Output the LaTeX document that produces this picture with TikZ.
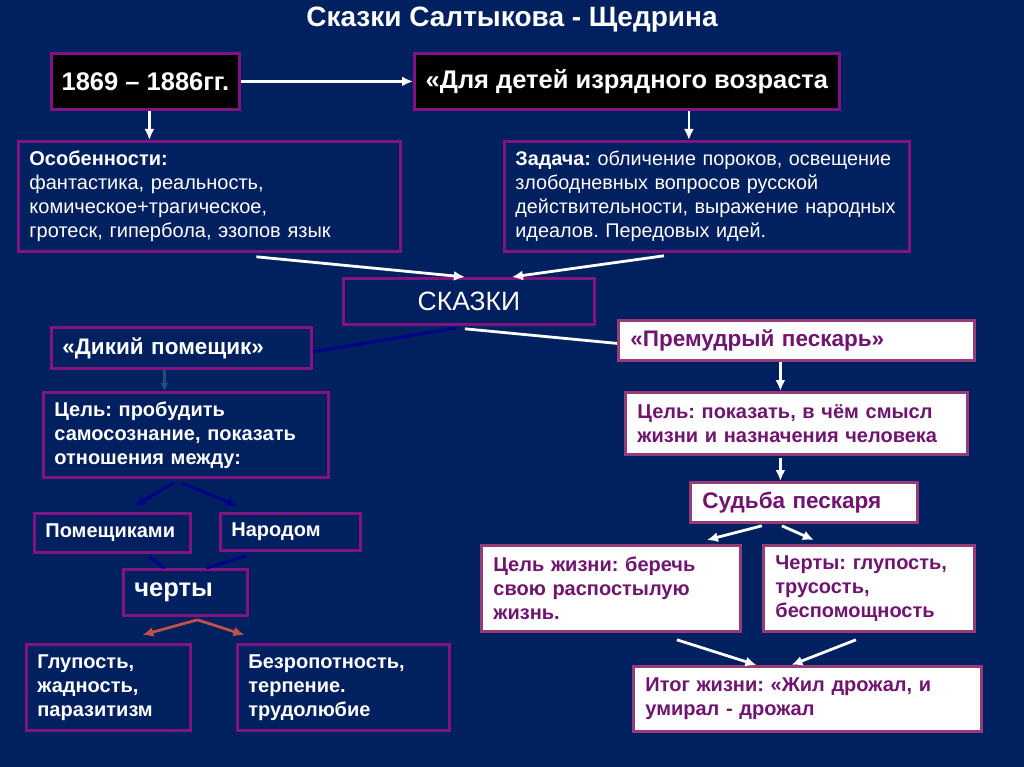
\documentclass[tikz,border=0pt]{standalone}
\usepackage{fontspec}
\setmainfont{Liberation Sans}
\usepackage{xcolor}
\usepackage{tikz}
\usetikzlibrary{arrows.meta,positioning,calc}
\frenchspacing
\hyphenpenalty=10000
\definecolor{slidebg}{RGB}{0,32,96}
\definecolor{boxpurple}{RGB}{130,20,130}
\definecolor{mauve}{RGB}{150,60,120}
\definecolor{inkpurple}{RGB}{112,20,112}
\definecolor{navyline}{RGB}{0,0,140}
\definecolor{tealline}{RGB}{30,80,120}
\definecolor{brick}{RGB}{192,80,77}
\tikzset{
  darkbox/.style={rectangle, draw=boxpurple, fill=black, line width=2.8pt, anchor=north west,
    text=white, font=\fontsize{25.5}{30}\selectfont\bfseries, inner sep=0pt},
  bluebox/.style={rectangle, draw=boxpurple, fill=slidebg, line width=2.8pt, anchor=north west,
    text=white, align=left, inner xsep=11pt, inner ysep=0pt,
    font=\fontsize{20}{24}\selectfont\bfseries},
  whitebox/.style={rectangle, draw=mauve, fill=white, line width=2.8pt, anchor=north west,
    text=inkpurple, align=left, inner xsep=12pt, inner ysep=0pt,
    font=\fontsize{20}{24}\selectfont\bfseries},
  whitearrow/.style={-{Latex[length=11pt,width=10pt]}, draw=white, line width=2.8pt},
  whiteline/.style={draw=white, line width=2.8pt},
  navyarrow/.style={-{Latex[length=11pt,width=10pt]}, draw=navyline, line width=2.8pt},
  navylink/.style={draw=navyline, line width=3pt},
  brickarrow/.style={-{Latex[length=11pt,width=10pt]}, draw=brick, line width=2.8pt},
}

\begin{document}
\begin{tikzpicture}[x=1pt, y=-1pt]
  \fill[slidebg] (0,0) rectangle (1024,767);
  \useasboundingbox (0,0) rectangle (1024,767);

  % Title
  \node[text=white, font=\fontsize{28}{32}\selectfont\bfseries] (title) at (512,20) {Сказки Салтыкова - Щедрина};

  % Top row
  \node[darkbox, minimum width=188pt, minimum height=56pt] (years) at (50,52) {1869 – 1886гг.};
  \node[darkbox, minimum width=425pt, minimum height=56pt] (kids) at (413,52) {«Для детей изрядного возраста};

  % Features and task
  \node[bluebox, text width=360pt, minimum height=110pt, font=\fontsize{20}{24}\selectfont] (feat) at (17,140)
    {\textbf{Особенности:}\\фантастика, реальность,\\комическое+трагическое,\\гротеск, гипербола, эзопов язык};
  \node[bluebox, text width=383pt, minimum height=110pt, font=\fontsize{19.8}{24}\selectfont] (task) at (503,140)
    {\textbf{Задача:} обличение пороков, освещение\\злободневных вопросов русской\\действительности, выражение народных\\идеалов. Передовых идей.};

  % Tales
  \node[bluebox, align=center, minimum width=251pt, minimum height=46pt, inner xsep=0pt,
    font=\fontsize{26.5}{30}\selectfont] (tales) at (342,277) {СКАЗКИ};

  % Left branch
  \node[bluebox, text width=238pt, minimum height=41pt, font=\fontsize{22.5}{26}\selectfont\bfseries] (wild) at (50,326) {«Дикий помещик»};
  \node[bluebox, text width=263pt, minimum height=85pt] (goalL) at (42,391)
    {Цель: пробудить\\самосознание, показать\\отношения между:};
  \node[bluebox, text width=134pt, minimum height=39pt] (lords) at (33,512) {Помещиками};
  \node[bluebox, text width=118pt, minimum height=37pt] (people) at (219,512) {Народом};
  \node[bluebox, text width=102pt, minimum height=46pt, font=\fontsize{25.5}{28}\selectfont\bfseries] (traits) at (122,568) {черты};
  \node[bluebox, text width=142pt, minimum height=86pt] (stupid) at (25,643)
    {Глупость,\\жадность,\\паразитизм};
  \node[bluebox, text width=190pt, minimum height=86pt] (meek) at (236,643)
    {Безропотность,\\терпение.\\трудолюбие};

  % Right branch
  \node[whitebox, text width=332pt, minimum height=40pt, font=\fontsize{22.5}{26}\selectfont\bfseries] (gudgeon) at (617,319) {«Премудрый пескарь»};
  \node[whitebox, text width=318pt, minimum height=62pt] (goalR) at (624,391)
    {Цель: показать, в чём смысл\\жизни и назначения человека};
  \node[whitebox, text width=203pt, minimum height=40pt, font=\fontsize{22.5}{26}\selectfont\bfseries] (fate) at (689,481) {Судьба пескаря};
  \node[whitebox, text width=235pt, minimum height=86pt] (aim) at (480,544)
    {Цель жизни: беречь\\свою распостылую\\жизнь.};
  \node[whitebox, text width=187pt, minimum height=86pt] (feats) at (762,544)
    {Черты: глупость,\\трусость,\\беспомощность};
  \node[whitebox, text width=324pt, minimum height=65pt] (result) at (632,665)
    {Итог жизни: «Жил дрожал, и\\умирал - дрожал};

  % Top connectors
  \draw[whitearrow] (years.east) -- (kids.west);
  \draw[whitearrow] ([xshift=4pt]years.south) -- ([xshift=4pt]years.south |- feat.north);
  \draw[whitearrow] ([xshift=62pt]kids.south) -- ([xshift=62pt]kids.south |- task.north);
  \draw[whitearrow] ([xshift=47pt,yshift=-4pt]feat.south) -- ([xshift=-4pt]tales.north);
  \draw[whitearrow] ([xshift=-43pt,yshift=-3pt]task.south) -- ([xshift=43pt]tales.north);

  % From tales to both branches
  \draw[whiteline] ([xshift=-4pt,yshift=-3pt]tales.south) -- ([yshift=-3pt]gudgeon.west);
  \draw[navylink] ([xshift=-12pt,yshift=-2pt]tales.south) -- ([yshift=-4pt]wild.east);

  % Left branch connectors
  \draw[-{Latex[length=8pt,width=8pt]}, draw=tealline, line width=2.5pt] ([xshift=-17pt]wild.south) -- ([xshift=-17pt]wild.south |- goalL.north);
  \draw[navyarrow] ([xshift=-12pt,yshift=-4pt]goalL.south) -- ([xshift=22pt,yshift=6pt]lords.north);
  \draw[navyarrow] ([xshift=-4pt,yshift=-4pt]goalL.south) -- ([xshift=-53pt,yshift=6pt]people.north);
  \draw[navylink] ([xshift=37pt,yshift=-3pt]lords.south) -- ([xshift=-21pt]traits.north);
  \draw[navylink] ([xshift=-44pt,yshift=-4pt]people.south) -- ([xshift=21pt]traits.north);
  \draw[brickarrow] ([xshift=12pt,yshift=-3pt]traits.south) -- ([xshift=34pt,yshift=8pt]stupid.north);
  \draw[brickarrow] ([xshift=12pt,yshift=-3pt]traits.south) -- ([xshift=-99pt,yshift=8pt]meek.north);

  % Right branch connectors
  \draw[whitearrow] ([xshift=-16pt]gudgeon.south) -- ([xshift=-16pt]gudgeon.south |- goalR.north);
  \draw[whitearrow] ([xshift=-16pt,yshift=-2pt]goalR.south) -- ([xshift=-16pt]goalR.south |- fate.north);
  \draw[whitearrow] ([xshift=-42pt,yshift=-2pt]fate.south) -- ([xshift=96pt,yshift=4pt]aim.north);
  \draw[whitearrow] ([xshift=-22pt,yshift=-2pt]fate.south) -- ([xshift=-55pt,yshift=4pt]feats.north);
  \draw[whitearrow] ([xshift=66pt,yshift=-7pt]aim.south) -- ([xshift=-51pt]result.north);
  \draw[whitearrow] ([xshift=-13pt,yshift=-7pt]feats.south) -- ([xshift=-16pt]result.north);
\end{tikzpicture}
\end{document}
